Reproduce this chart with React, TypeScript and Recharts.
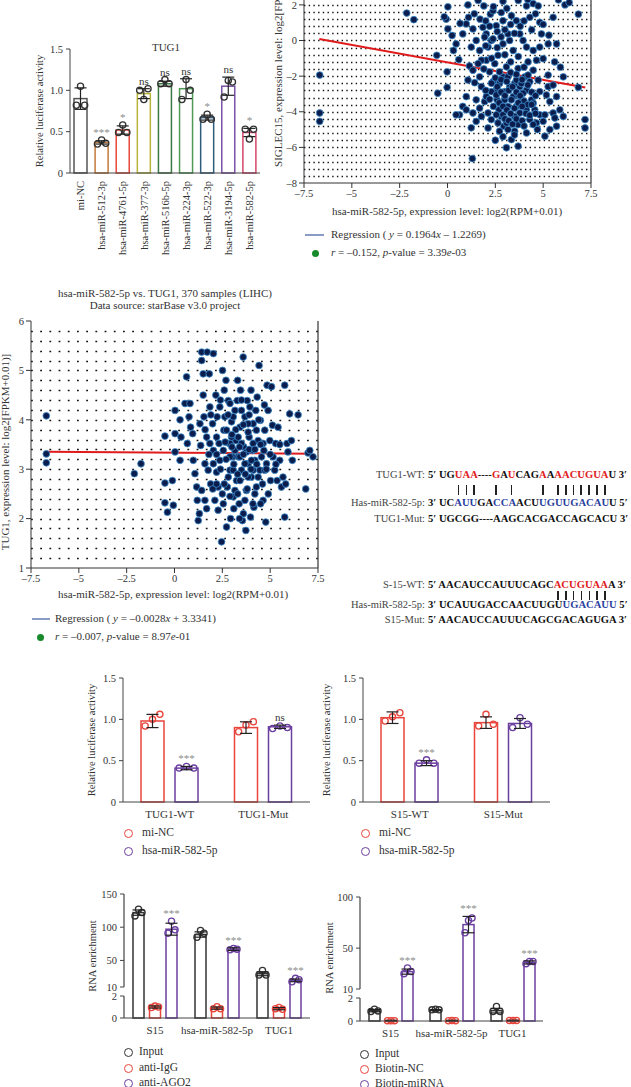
import React from "react";
import {
  BarChart,
  Bar,
  XAxis,
  YAxis,
  ErrorBar,
  ScatterChart,
  Scatter,
  CartesianGrid,
  ReferenceLine,
} from "recharts";

const SERIF = '"Liberation Serif", "DejaVu Serif", "Times New Roman", serif';
const INK = "#333";
const STAR = "#8c8c8c";
const RED = "#e8453c";
const PURPLE = "#6b3fa0";
const DARK = "#333";

// ---------- A: luciferase screen of candidate miRNAs on TUG1
const screenMirs = [
  "mi-NC",
  "hsa-miR-512-3p",
  "hsa-miR-4761-5p",
  "hsa-miR-377-3p",
  "hsa-miR-516b-5p",
  "hsa-miR-224-3p",
  "hsa-miR-522-3p",
  "hsa-miR-3194-5p",
  "hsa-miR-582-5p",
];
const screenMean = [0.9, 0.37, 0.52, 0.96, 1.08, 1.02, 0.67, 1.05, 0.49];
const screenSd = [0.13, 0.02, 0.05, 0.06, 0.03, 0.12, 0.03, 0.11, 0.05];
const screenReps = [
  [0.82, 1.05, 0.82],
  [0.35, 0.4, 0.36],
  [0.49, 0.58, 0.49],
  [1.0, 0.89, 1.02],
  [1.08, 1.13, 1.08],
  [0.89, 1.13, 1.0],
  [0.65, 0.71, 0.65],
  [0.92, 1.12, 1.1],
  [0.53, 0.41, 0.53],
];
const screenSig = ["", "***", "*", "ns", "ns", "ns", "*", "ns", "*"];
const screenColors = ["#555", "#c47a3a", "#e8473c", "#b8b43a", "#3c7a45", "#4f9a55", "#2f5d7c", "#7b51a8", "#d4476a"];

// ---------- B: SIGLEC15 vs hsa-miR-582-5p (starBase)
const siglecPoints: [number, number][] = [
  [-6.68, -1.94], [-6.68, -4.07], [-6.68, -4.54], [-2.13, 1.54], [-1.76, 1.17], [-0.51, -2.96], [-0.56, -0.83],
  [-0.02, -1.76], [-0.02, -2.63], [-0.07, 1.2], [-0.17, 1.33], [0.02, 1.89], [0.02, 0.65], [0.24, 0.28],
  [0.31, -0.56], [0.45, -0.19], [0.59, -1.07], [0.8, 0.37], [1.07, 2.0], [0.98, 0.93], [0.66, 0.96],
  [1.33, 0.65], [1.15, -1.43], [0.98, -3.15], [0.63, -4.17], [0.8, -3.7], [1.3, -6.63], [1.24, -4.9],
  [1.5, -4.54], [1.42, -2.37], [1.68, -2.04], [1.77, -2.59], [1.85, 0.74], [1.9, 1.94], [2.03, 0.37],
  [2.12, -0.37], [2.24, 1.48], [2.29, 0], [2.38, 1.67], [2.47, -1.3], [2.55, -2.78], [2.59, -3.33],
  [2.69, -3.89], [2.81, -4.26], [2.94, -4.81], [3.08, -6.02], [3.34, -5.56], [3.51, -5.09], [3.69, -4.72],
  [3.78, 0.37], [3.95, 0], [4.13, 1.94], [4.3, 1.3], [4.48, 2.07], [4.74, 1.94], [4.82, 1.02], [4.91, 0.37],
  [5.0, -1.02], [5.26, -0.19], [5.52, 1.3], [5.7, -0.19], [6.05, -2.04], [6.14, 2.0], [6.36, 2.13],
  [6.84, 1.48], [7.19, -4.44], [7.19, -4.91], [6.84, -2.63], [5.87, -3.89], [6.05, -4.26], [5.7, -4.81],
  [5.35, -5.0], [5.09, -5.37], [5.26, -2.59], [5.17, -3.06], [4.82, -4.17], [4.56, -3.89], [4.65, -4.63],
  [4.39, -3.33], [4.3, -2.31], [4.13, -2.78], [4.04, -2.04], [3.86, -3.33], [3.78, -2.59], [3.6, -3.7],
  [3.43, -3.15], [3.25, -2.59], [3.16, -3.7], [2.99, -3.33], [2.9, -2.04], [2.72, -2.41], [3.08, -1.48],
  [3.43, -0.56], [3.25, 0], [3.6, 1.11], [3.34, 1.39], [2.9, 1.11], [2.81, 1.57], [2.55, 0.83], [1.94, 0.19],
  [1.68, -0.56], [1.5, 0], [1.24, -0.37], [2.03, -1.11], [2.2, -1.76], [2.38, -2.31], [1.94, -3.43],
  [1.68, -3.8], [1.5, -3.33], [2.12, -4.07], [2.29, -4.44], [2.64, -4.63], [2.72, -5.09], [4.3, -4.44],
  [4.48, -3.52], [4.13, -3.89], [3.78, -4.07], [3.51, -4.26], [3.95, -2.96], [3.69, -3.06], [4.82, -2.87],
  [4.74, -2.22], [4.48, -1.67], [4.21, -1.2], [4.65, -1.11], [4.82, -0.37], [4.48, -0.56], [4.13, -0.37],
  [3.69, -1.57], [3.51, -2.41], [3.16, -2.04], [2.72, -1.76], [2.64, -0.83], [2.9, -0.19], [3.16, 0.37],
  [2.38, 0.09], [1.77, -1.11], [1.33, -1.67], [1.07, -2.22], [0.45, -4.17], [0.98, -3.89], [1.33, -4.07],
  [2.03, -3.15], [2.29, -2.87], [2.55, -3.06], [2.99, -2.87], [3.34, -3.33], [3.6, -2.22], [3.86, -2.41],
  [4.21, -1.94], [5.26, -1.94], [5.52, -2.5], [5.7, -3.15], [5.35, -3.43], [5.09, -4.17], [5.52, -4.07],
  [3.69, -5.93], [4.13, -5.19], [3.16, -5.0], [2.12, -4.91], [1.77, -4.26], [2.55, -4.17], [2.9, -4.17],
  [4.48, -4.72], [5.0, -4.54], [5.61, -4.35], [3.08, -4.63], [1.6, 2.25], [2.9, 2.2], [3.7, 2.25],
  [5.8, 2.28], [4.2, 2.3],
  [2.6, -2.6], [2.8, -2.9], [3.0, -3.1], [3.2, -2.8], [3.4, -2.6], [3.6, -2.9], [3.8, -3.1], [4.0, -3.4],
  [4.2, -3.6], [2.7, -3.5], [2.9, -3.7], [3.1, -3.9], [3.3, -4.1], [3.5, -3.8], [3.7, -3.5], [3.9, -3.7],
  [4.1, -4.1], [4.3, -4.2], [3.0, -4.4], [3.2, -4.5], [3.4, -4.7], [3.6, -4.4], [3.9, -4.5], [2.4, -3.7],
  [2.2, -3.3], [2.0, -2.8], [2.3, -2.4], [2.5, -2.1], [2.8, -2.2], [3.1, -2.3], [3.3, -1.8], [3.6, -1.9],
  [3.9, -2.2], [4.2, -2.5], [4.4, -2.9], [4.6, -3.1], [4.4, -3.6], [4.6, -4.1], [4.0, -4.8], [3.5, -5.3],
  [2.9, -5.4], [2.5, -5.6], [4.7, -5.0], [1.7, 1.2], [2.0, 1.1], [2.2, 0.8], [2.6, 0.5], [2.8, 0.2],
  [3.0, 0.6], [3.3, 0.9], [3.5, 0.4], [3.8, 0.8], [4.0, 1.1], [3.1, 1.8], [2.4, 1.9], [1.4, 1.5], [1.1, 1.3],
  [2.0, -0.3], [2.6, -0.4], [3.0, -0.8], [3.3, -1.2], [3.7, -0.9], [4.0, -1.5], [2.3, -1.0], [1.9, -1.6],
  [1.6, -1.3], [4.4, 0.6], [4.6, 1.5], [5.0, 0.9], [5.3, 0.3], [5.6, -1.2], [5.9, -1.5],
];
const siglecFit = [
  { x: -6.7, y: 0.09 },
  { x: 7.2, y: -2.64 },
];

// ---------- C: TUG1 vs hsa-miR-582-5p (starBase)
const tugPoints: [number, number][] = [
  [-6.7, 4.08], [-6.7, 3.31], [-6.7, 3.13], [-2.1, 2.91], [-1.75, 3.11], [-0.5, 2.32], [-0.5, 2.72],
  [-0.5, 3.67], [-0.37, 2.13], [-0.11, 2.77], [-0.06, 2.27], [0.03, 4.19], [0.03, 3.72], [0.03, 3.35],
  [0.29, 4.0], [0.29, 3.18], [0.34, 3.65], [0.55, 4.33], [0.63, 4.87], [0.67, 3.52], [0.76, 4.06],
  [0.81, 4.33], [0.84, 3.85], [0.95, 3.72], [0.98, 3.18], [1.07, 2.91], [1.16, 2.64], [1.19, 2.37],
  [1.24, 1.96], [1.3, 2.1], [1.33, 3.92], [1.37, 3.48], [1.42, 5.37], [1.42, 5.2], [1.5, 4.93], [1.5, 4.5],
  [1.54, 4.06], [1.59, 3.11], [1.68, 2.2], [1.71, 5.37], [1.68, 3.65], [1.76, 2.98], [1.82, 4.93],
  [1.85, 4.26], [1.89, 2.7], [1.99, 3.92], [2.03, 5.34], [2.03, 3.38], [2.11, 2.37], [2.16, 4.5], [2.2, 2.94],
  [2.23, 4.06], [2.28, 2.64], [2.33, 3.52], [2.37, 3.18], [2.46, 1.53], [2.51, 5.0], [2.55, 2.3], [2.58, 3.79],
  [2.63, 4.06], [2.69, 4.8], [2.72, 1.83], [2.76, 2.64], [2.81, 4.39], [2.86, 3.52], [2.9, 2.98], [2.93, 2.0],
  [2.98, 3.96], [3.03, 3.25], [3.07, 2.44], [3.16, 4.19], [3.21, 3.58], [3.24, 2.77], [3.33, 3.25],
  [3.38, 2.3], [3.42, 3.85], [3.45, 4.6], [3.5, 2.98], [3.55, 1.96], [3.59, 5.27], [3.62, 3.45], [3.68, 4.06],
  [3.73, 1.76], [3.76, 2.57], [3.8, 4.39], [3.85, 3.11], [3.9, 3.65], [3.94, 4.26], [3.97, 2.03], [4.02, 2.84],
  [4.08, 3.38], [4.11, 3.92], [4.15, 2.23], [4.2, 3.18], [4.25, 4.19], [4.28, 2.64], [4.32, 4.46], [4.37, 3.58],
  [4.42, 5.1], [4.46, 2.98], [4.49, 3.99], [4.55, 3.25], [4.63, 2.37], [4.67, 3.38], [4.72, 3.79], [4.77, 1.93],
  [4.81, 3.11], [4.84, 4.7], [4.89, 4.19], [4.98, 3.58], [5.02, 2.77], [5.07, 4.67], [5.12, 3.89], [5.15, 3.25],
  [5.24, 2.98], [5.29, 3.52], [5.36, 2.77], [5.41, 3.85], [5.5, 3.18], [5.59, 2.64], [5.67, 2.84], [5.76, 4.7],
  [5.76, 2.03], [5.81, 2.7], [5.88, 3.52], [5.93, 3.35], [6.02, 4.12], [6.11, 3.58], [6.16, 3.18], [6.46, 4.1],
  [6.86, 2.6], [6.98, 3.33], [7.24, 3.25], [7.07, 3.38], [2.9, 3.25], [3.16, 3.38], [3.33, 3.65], [3.5, 3.52],
  [3.76, 3.35], [4.11, 2.98], [3.07, 2.98], [3.42, 2.77], [3.85, 2.84], [2.81, 2.84], [2.55, 3.38], [2.72, 3.79],
  [3.07, 4.06], [3.5, 4.19], [3.85, 3.92], [4.28, 3.79], [4.11, 3.52], [4.63, 3.52], [3.16, 2.57], [3.68, 2.37],
  [2.28, 2.17], [2.03, 3.11], [2.37, 4.26], [2.9, 4.33], [3.28, 4.39], [2.2, 3.65], [1.85, 3.52], [1.42, 2.57],
  [1.59, 2.37], [2.98, 3.65], [3.68, 3.11], [4.02, 3.18], [4.37, 2.84], [4.72, 2.98], [3.42, 3.25], [2.9, 3.52],
  [2.4, 3.0], [2.6, 2.7], [2.7, 3.2], [3.0, 3.45], [3.1, 3.1], [3.3, 2.9], [3.4, 3.45], [3.6, 3.3], [3.7, 2.9],
  [3.9, 3.4], [4.0, 3.0], [4.2, 3.4], [4.3, 3.1], [4.5, 3.5], [4.6, 2.7], [3.2, 3.8], [3.6, 3.9], [3.0, 3.7],
  [2.8, 4.1], [3.5, 4.4], [3.9, 4.1], [4.4, 4.0], [2.5, 2.5], [2.9, 2.45], [3.3, 2.5], [3.8, 2.6], [4.2, 2.5],
  [4.5, 2.3], [3.1, 2.2], [3.6, 2.1], [2.2, 3.3], [2.0, 2.6], [1.8, 3.3], [1.6, 3.8], [1.9, 4.1], [2.4, 4.4],
  [2.6, 4.6], [3.3, 4.8], [4.0, 4.6], [4.7, 4.3], [5.0, 3.3], [5.3, 3.1], [4.9, 2.5], [5.5, 3.5], [3.4, 2.0],
  [2.2, 2.7], [4.1, 2.3], [4.8, 3.0], [2.65, 3.55], [3.85, 3.75],
];
const tugFit = [
  { x: -6.7, y: 3.353 },
  { x: 7.2, y: 3.314 },
];

const scatterXTicks = [-7.5, -5, -2.5, 0, 2.5, 5, 7.5];
const siglecYTicks = [-8, -6, -4, -2, 0, 2, 4, 6, 8];
const tugYTicks = [1, 2, 3, 4, 5, 6];

// ---------- E / F: dual luciferase, WT vs Mut
const tugLucGroups = ["TUG1-WT", "TUG1-Mut"];
const tugLucNC = [0.98, 0.9];
const tugLucNCSd = [0.08, 0.07];
const tugLucNCReps = [[0.92, 1.0, 1.06], [0.85, 0.93, 0.97]];
const tugLucMir = [0.41, 0.91];
const tugLucMirSd = [0.02, 0.02];
const tugLucMirReps = [[0.41, 0.43, 0.41], [0.89, 0.92, 0.9]];
const tugLucSig = ["***", "ns"];

const s15LucGroups = ["S15-WT", "S15-Mut"];
const s15LucNC = [1.02, 0.96];
const s15LucNCSd = [0.07, 0.07];
const s15LucNCReps = [[0.98, 1.03, 1.08], [0.92, 1.06, 0.94]];
const s15LucMir = [0.47, 0.95];
const s15LucMirSd = [0.03, 0.06];
const s15LucMirReps = [[0.47, 0.51, 0.47], [0.9, 1.02, 0.94]];
const s15LucSig = ["***", ""];

const lucTicks = [0, 0.5, 1, 1.5];

// ---------- G: RIP (anti-AGO2)
const ripGroups = ["S15", "hsa-miR-582-5p", "TUG1"];
const ripInput = [122, 89, 30];
const ripInputSd = [4, 4, 3];
const ripInputReps = [[117, 127, 122], [85, 95, 91], [28, 35, 28]];
const ripIgg = [1.0, 0.9, 0.85];
const ripIggSd = [0.1, 0.1, 0.1];
const ripIggReps = [[0.95, 1.08, 1.0], [0.85, 1.02, 0.85], [0.85, 0.95, 0.8]];
const ripAgo = [97, 67, 20];
const ripAgoSd = [9, 2, 2];
const ripAgoReps = [[91, 109, 96], [66, 68, 67], [18, 23, 21]];
const ripSig = ["***", "***", "***"];
const ripTicks = [0, 2, 10, 50, 100, 150];

// ---------- H: biotin pull-down
const pullGroups = ["S15", "hsa-miR-582-5p", "TUG1"];
const pullInput = [0.9, 0.95, 0.9];
const pullInputSd = [0.1, 0.05, 0.2];
const pullInputReps = [[0.82, 1.03, 0.88], [0.97, 1.03, 0.97], [0.82, 1.26, 0.82]];
const pullNC = [0.03, 0.03, 0.04];
const pullNCSd = [0.03, 0.03, 0.03];
const pullNCReps = [[0.03, 0.03, 0.03], [0.02, 0.04, 0.03], [0.04, 0.05, 0.04]];
const pullMir = [27, 73, 36];
const pullMirSd = [2.5, 8, 1.5];
const pullMirReps = [[25, 30.5, 27], [65, 77, 79.4], [34.8, 37, 37]];
const pullSig = ["***", "***", "***"];
const pullTicks = [0, 2, 10, 50, 100];

// broken y axis: lower part 0-2, gap, upper part 10-top, all in pixel-like units
function brokenScale(lowPx: number, gapPx: number, upPx: number, top: number) {
  return (v: number) =>
    v <= 2 ? (v / 2) * lowPx : v < 10 ? lowPx + ((v - 2) / 8) * gapPx : lowPx + gapPx + ((v - 10) / (top - 10)) * upPx;
}
const ripToM = brokenScale(22, 9, 93, 150);
const pullToM = brokenScale(23, 9, 92, 100);
const BROKEN_MAX = 124;

type Series = { key: string; mean: number[]; sd: number[]; reps: number[][]; sig?: string[] };

function buildRows(groups: string[], series: Series[], toM = (v: number) => v) {
  return groups.map((g, i) => {
    const row: any = { group: g };
    series.forEach((s) => {
      const m = toM(s.mean[i]);
      row[s.key] = m;
      row[s.key + "Mean"] = s.mean[i];
      row[s.key + "Sd"] = s.sd[i];
      row[s.key + "Reps"] = s.reps[i];
      row[s.key + "Sig"] = s.sig ? s.sig[i] : "";
      row[s.key + "Err"] = [m - toM(Math.max(0, s.mean[i] - s.sd[i])), toM(s.mean[i] + s.sd[i]) - m];
    });
    return row;
  });
}

// open bar with the replicate circles and significance mark
function openBar(key: string, k: number, strokeOf: (i: number) => string, dotOf: (i: number) => string, toM = (v: number) => v) {
  return (p: any) => {
    const { x, y, width, height, payload, index } = p;
    const base = y + height;
    const reps: number[] = payload[key + "Reps"];
    const top = Math.max(...reps, payload[key + "Mean"] + payload[key + "Sd"]);
    const cx = x + width / 2;
    const sig = payload[key + "Sig"];
    return (
      <g>
        <rect x={x} y={y} width={width} height={Math.max(height, 0)} fill="#fff" stroke={strokeOf(index)} strokeWidth={1.5} />
        {reps.map((r, j) => (
          <circle key={j} cx={cx + (j - 1) * width * 0.32} cy={base - toM(r) * k} r={3.1} fill="none" stroke={dotOf(index)} strokeWidth={1.3} />
        ))}
        {sig ? (
          <text x={cx} y={base - toM(top) * k - 4} textAnchor="middle" fontSize={11} fill={sig === "ns" ? INK : STAR}>
            {sig}
          </text>
        ) : null}
      </g>
    );
  };
}

function brokenTick(ticks: number[], toM: (v: number) => number, segments: [number, number][]) {
  return (p: any) => {
    const { x, y, payload } = p;
    const raw = ticks.find((t) => Math.abs(toM(t) - payload.value) < 1e-6);
    const seg = segments.find((s) => s[0] === raw);
    const ax = x + 7;
    return (
      <g>
        <text x={x} y={y} dy="0.35em" textAnchor="end" fontSize={10.5} fill={INK}>
          {raw}
        </text>
        {seg ? <line x1={ax} x2={ax} y1={y} y2={y - (toM(seg[1]) - toM(seg[0]))} stroke="#444" strokeWidth={1.2} /> : null}
      </g>
    );
  };
}

// dotted background rows, snapped to whole pixels so every row stays crisp
function rowGenerator(values: number[], min: number, max: number) {
  return ({ offset }: any) =>
    offset ? values.map((v) => Math.round(offset.top + ((max - v) / (max - min)) * offset.height) + 0.5) : [];
}

const fmtLuc = (v: number) => (v === 0 ? "0" : v.toFixed(1));
const fmtSigned = (v: number) => (v < 0 ? "\u2013" + Math.abs(v) : String(v));

const RotTick = (p: any) => (
  <g transform={`translate(${p.x},${p.y})`}>
    <text transform="rotate(-90)" textAnchor="end" dy="0.35em" fontSize={10.5} fill={INK}>
      {p.payload.value}
    </text>
  </g>
);

const navyDot = (p: any) => <circle cx={p.cx} cy={p.cy} r={3.4} fill="#0b1d4d" stroke="#3d8fd1" strokeWidth={0.8} />;

function Label({ x, y, children, size = 10.5, align = "start", rotate = false, color = INK }: any) {
  const tx = align === "middle" ? "-50%" : align === "end" ? "-100%" : "0";
  return (
    <div
      style={{
        position: "absolute",
        left: x,
        top: y,
        transform: rotate ? "translate(-50%, -50%) rotate(-90deg)" : `translate(${tx}, -50%)`,
        fontSize: size,
        color,
        whiteSpace: "nowrap",
        lineHeight: 1.2,
      }}
    >
      {children}
    </div>
  );
}

function LegendCircle({ x, y, color }: any) {
  return (
    <div
      style={{
        position: "absolute",
        left: x - 4.5,
        top: y - 4.5,
        width: 9,
        height: 9,
        borderRadius: "50%",
        border: `1.3px solid ${color}`,
        boxSizing: "border-box",
      }}
    />
  );
}

function Box({ left, top, children }: any) {
  return <div style={{ position: "absolute", left, top }}>{children}</div>;
}

// ---------- sequences
const SEQ_LABEL_RIGHT = 425;
const SEQ_X = 428;
const SEQ_SIZE = 10.6;
type Seg = [string, string?];
const SEQ_RED = "#e0201c";
const SEQ_BLUE = "#2b3f9e";

const tugWt: Seg[] = [["UG"], ["UAA", SEQ_RED], ["----"], ["G", SEQ_RED], ["A"], ["U", SEQ_RED], ["CAG"], ["A", SEQ_RED], ["A"], ["AACUGUA", SEQ_RED], ["U"]];
const tugPairs = [2, 3, 4, 9, 11, 15, 17, 18, 19, 20, 21, 22, 23];
const mirTug: Seg[] = [["UC"], ["AUU", SEQ_BLUE], ["GA"], ["CCA", SEQ_BLUE], ["ACU"], ["UGUUGACAU", SEQ_BLUE], ["U"]];
const tugMut: Seg[] = [["UGCGG----AAGCACGACCAGCACU"]];
const s15Wt: Seg[] = [["AACAUCCAUUUCAGC"], ["ACUGUAA", SEQ_RED], ["A"]];
const s15Pairs = [15, 16, 17, 18, 19, 20, 21];
const mirS15: Seg[] = [["UCAUUGACCAACUUGU"], ["UGACAUU", SEQ_BLUE]];
const s15Mut: Seg[] = [["AACAUCCAUUUCAGCGACAGUGA"]];

function SeqRow({ y, label, p5, segs, p3 }: any) {
  return (
    <>
      <div style={{ position: "absolute", right: 631 - SEQ_LABEL_RIGHT, top: y, transform: "translateY(-50%)", fontSize: 10.5, color: "#444", whiteSpace: "nowrap", lineHeight: 1.2 }}>
        {label}
      </div>
      <div style={{ position: "absolute", left: SEQ_X, top: y, transform: "translateY(-50%)", fontSize: SEQ_SIZE, fontWeight: 700, color: "#111", whiteSpace: "nowrap", lineHeight: 1.2 }}>
        {p5}{" "}
        {segs.map((s: Seg, i: number) => (
          <span key={i} style={{ color: s[1] || "#111" }}>
            {s[0]}
          </span>
        ))}{" "}
        {p3}
      </div>
    </>
  );
}

// a copy of the upper strand in invisible ink, with a stroke under every paired base
function PairRow({ y, h, p5, segs, pairs }: any) {
  const chars = segs.map((s: Seg) => s[0]).join("").split("");
  return (
    <div style={{ position: "absolute", left: SEQ_X, top: y - 20, height: 40, whiteSpace: "nowrap", fontSize: SEQ_SIZE, fontWeight: 700, color: "transparent", lineHeight: "40px" }}>
      {p5}{" "}
      {chars.map((ch: string, i: number) => (
        <span key={i} style={{ position: "relative", display: "inline-block", height: 40, verticalAlign: "top" }}>
          {ch}
          {pairs.includes(i) ? (
            <span style={{ position: "absolute", left: "50%", top: 20 - h / 2, height: h, width: 1.6, marginLeft: -0.8, background: "#222" }} />
          ) : null}
        </span>
      ))}
    </div>
  );
}

const screenRows = buildRows(screenMirs, [{ key: "v", mean: screenMean, sd: screenSd, reps: screenReps, sig: screenSig }]);
const tugLucRows = buildRows(tugLucGroups, [
  { key: "nc", mean: tugLucNC, sd: tugLucNCSd, reps: tugLucNCReps },
  { key: "mir", mean: tugLucMir, sd: tugLucMirSd, reps: tugLucMirReps, sig: tugLucSig },
]);
const s15LucRows = buildRows(s15LucGroups, [
  { key: "nc", mean: s15LucNC, sd: s15LucNCSd, reps: s15LucNCReps },
  { key: "mir", mean: s15LucMir, sd: s15LucMirSd, reps: s15LucMirReps, sig: s15LucSig },
]);
const ripRows = buildRows(
  ripGroups,
  [
    { key: "input", mean: ripInput, sd: ripInputSd, reps: ripInputReps },
    { key: "igg", mean: ripIgg, sd: ripIggSd, reps: ripIggReps },
    { key: "ago", mean: ripAgo, sd: ripAgoSd, reps: ripAgoReps, sig: ripSig },
  ],
  ripToM
);
const pullRows = buildRows(
  pullGroups,
  [
    { key: "input", mean: pullInput, sd: pullInputSd, reps: pullInputReps },
    { key: "nc", mean: pullNC, sd: pullNCSd, reps: pullNCReps },
    { key: "mir", mean: pullMir, sd: pullMirSd, reps: pullMirReps, sig: pullSig },
  ],
  pullToM
);
const siglecData = siglecPoints.map(([x, y]) => ({ x, y }));
const tugData = tugPoints.map(([x, y]) => ({ x, y }));
const siglecRowsGrid = Array.from({ length: 40 }, (_, i) => -7.6 + i * 0.4);
const tugRowsGrid = Array.from({ length: 24 }, (_, i) => 1.2 + i * 0.2);

const axisTick = { fontSize: 10.5, fill: INK };
const errProps = { width: 6, stroke: "#222", strokeWidth: 1.2 };

function LucChart({ rows }: any) {
  const k = 124 / 1.5;
  return (
    <BarChart width={235} height={154} data={rows} margin={{ top: 10, right: 5, left: 13, bottom: 0 }} barSize={23} barGap={11}>
      <XAxis dataKey="group" tickLine={false} height={20} interval={0} stroke="#444" tick={{ fontSize: 11, fill: INK }} />
      <YAxis domain={[0, 1.5]} ticks={lucTicks} tickFormatter={fmtLuc} width={30} tickSize={4} tickMargin={3} stroke="#444" tick={axisTick} />
      <Bar dataKey="nc" isAnimationActive={false} shape={openBar("nc", k, () => RED, () => RED)}>
        <ErrorBar dataKey="ncSd" {...errProps} />
      </Bar>
      <Bar dataKey="mir" isAnimationActive={false} shape={openBar("mir", k, () => PURPLE, () => PURPLE)}>
        <ErrorBar dataKey="mirSd" {...errProps} />
      </Bar>
    </BarChart>
  );
}

function BrokenChart({ rows, keys, colors, toM, ticks, segments, width, left, yWidth }: any) {
  return (
    <BarChart width={width} height={154} data={rows} margin={{ top: 10, right: 5, left, bottom: 0 }} barSize={11} barGap={5.5}>
      <XAxis dataKey="group" tickLine={false} height={20} interval={0} stroke="#444" tick={{ fontSize: 11, fill: INK }} />
      <YAxis
        type="number"
        domain={[0, BROKEN_MAX]}
        ticks={ticks.map(toM)}
        interval={0}
        width={yWidth}
        tickSize={4}
        tickMargin={3}
        axisLine={false}
        stroke="#444"
        tick={brokenTick(ticks, toM, segments)}
      />
      {keys.map((key: string, i: number) => (
        <Bar key={key} dataKey={key} isAnimationActive={false} shape={openBar(key, 1, () => colors[i], () => colors[i], toM)}>
          <ErrorBar dataKey={key + "Err"} {...errProps} />
        </Bar>
      ))}
    </BarChart>
  );
}

export default function App() {
  return (
    <div
      style={{
        position: "absolute",
        left: 0,
        top: 0,
        width: 631,
        height: 1087,
        overflow: "hidden",
        background: "#fff",
        fontFamily: SERIF,
        color: INK,
      }}
    >
      {/* A */}
      <Box left={0} top={0}>
        <BarChart width={270} height={265} data={screenRows} margin={{ top: 49, right: 10, left: 30, bottom: 0 }} barSize={13}>
          <XAxis dataKey="group" interval={0} tickLine={false} height={92} tick={RotTick} stroke="#444" />
          <YAxis domain={[0, 1.5]} ticks={lucTicks} tickFormatter={fmtLuc} width={40} tickSize={4} tickMargin={3} stroke="#444" tick={axisTick} />
          <Bar dataKey="v" isAnimationActive={false} shape={openBar("v", 124 / 1.5, (i) => screenColors[i], () => "#333")}>
            <ErrorBar dataKey="vSd" {...errProps} />
          </Bar>
        </BarChart>
      </Box>
      <Label x={166} y={48} align="middle" size={11}>TUG1</Label>
      <Label x={40} y={111} rotate>Relative luciferase activity</Label>

      {/* B */}
      <Box left={270} top={-110}>
        <ScatterChart width={329} height={323} margin={{ top: 8, right: 8, left: 4, bottom: 0 }}>
          <CartesianGrid
            vertical={false}
            horizontalValues={siglecRowsGrid}
            horizontalCoordinatesGenerator={rowGenerator(siglecRowsGrid, -8, 8)}
            stroke="#111"
            strokeWidth={1.3}
            strokeDasharray="1.4 3.3"
          />
          <XAxis type="number" dataKey="x" domain={[-7.5, 7.5]} ticks={scatterXTicks} tickFormatter={fmtSigned} height={30} tickSize={5} stroke="#333" tick={axisTick} />
          <YAxis type="number" dataKey="y" domain={[-8, 8]} ticks={siglecYTicks} tickFormatter={fmtSigned} width={30} tickSize={5} stroke="#333" tick={axisTick} />
          <ReferenceLine x={7.5} stroke="#333" strokeWidth={1.2} />
          <Scatter data={siglecData} shape={navyDot} isAnimationActive={false} />
          <ReferenceLine segment={siglecFit} stroke="#e01b1b" strokeWidth={2} />
        </ScatterChart>
      </Box>
      <Label x={279} y={58} rotate size={11}>SIGLEC15, expression level: log2[FPKM+0.01)]</Label>
      <Label x={447} y={212} align="middle" size={11}>hsa-miR-582-5p, expression level: log2(RPM+0.01)</Label>
      <div style={{ position: "absolute", left: 305, top: 234, width: 19, height: 1.5, background: "#8a9cc6" }} />
      <Label x={331} y={235} size={11}>
        Regression ( <i>y</i> = 0.1964<i>x</i> – 1.2269)
      </Label>
      <div style={{ position: "absolute", left: 311.5, top: 249.5, width: 7, height: 7, borderRadius: "50%", background: "#178a2c" }} />
      <Label x={331} y={253} size={11}>
        <i>r</i> = –0.152, <i>p</i>-value = 3.39<i>e</i>-03
      </Label>

      {/* C */}
      <Label x={165} y={294} align="middle" size={11}>hsa-miR-582-5p vs. TUG1, 370 samples (LIHC)</Label>
      <Label x={165} y={306} align="middle" size={11}>Data source: starBase v3.0 project</Label>
      <Box left={0} top={310}>
        <ScatterChart width={326} height={288} margin={{ top: 11, right: 8, left: 6, bottom: 0 }}>
          <CartesianGrid
            vertical={false}
            horizontalValues={tugRowsGrid}
            horizontalCoordinatesGenerator={rowGenerator(tugRowsGrid, 1, 6)}
            stroke="#111"
            strokeWidth={1.4}
            strokeDasharray="1.8 7.4"
          />
          <XAxis type="number" dataKey="x" domain={[-7.5, 7.5]} ticks={scatterXTicks} tickFormatter={fmtSigned} height={30} tickSize={5} stroke="#333" tick={axisTick} />
          <YAxis type="number" dataKey="y" domain={[1, 6]} ticks={tugYTicks} width={25} tickSize={5} stroke="#333" tick={axisTick} />
          <ReferenceLine x={7.5} stroke="#333" strokeWidth={1.2} />
          <Scatter data={tugData} shape={navyDot} isAnimationActive={false} />
          <ReferenceLine segment={tugFit} stroke="#e01b1b" strokeWidth={2} />
        </ScatterChart>
      </Box>
      <Label x={6} y={452} rotate size={11}>TUG1, expression level: log2[FPKM+0.01)]</Label>
      <Label x={173} y={595} align="middle" size={11}>hsa-miR-582-5p, expression level: log2(RPM+0.01)</Label>
      <div style={{ position: "absolute", left: 32, top: 618, width: 18, height: 1.5, background: "#8a9cc6" }} />
      <Label x={55} y={619} size={11}>
        Regression ( <i>y</i> = –0.0028<i>x</i> + 3.3341)
      </Label>
      <div style={{ position: "absolute", left: 36.5, top: 633.5, width: 7, height: 7, borderRadius: "50%", background: "#178a2c" }} />
      <Label x={55} y={637} size={11}>
        <i>r</i> = –0.007, <i>p</i>-value = 8.97<i>e</i>-01
      </Label>

      {/* D: binding sites */}
      <SeqRow y={475} label="TUG1-WT:" p5={"5\u2032"} segs={tugWt} p3={"3\u2032"} />
      <PairRow y={490} h={10} p5={"5\u2032"} segs={tugWt} pairs={tugPairs} />
      <SeqRow y={503} label="Has-miR-582-5p:" p5={"3\u2032"} segs={mirTug} p3={"5\u2032"} />
      <SeqRow y={519} label="TUG1-Mut:" p5={"5\u2032"} segs={tugMut} p3={"3\u2032"} />
      <SeqRow y={585} label="S-15-WT:" p5={"5\u2032"} segs={s15Wt} p3={"3\u2032"} />
      <PairRow y={595} h={9} p5={"5\u2032"} segs={s15Wt} pairs={s15Pairs} />
      <SeqRow y={605} label="Has-miR-582-5p:" p5={"3\u2032"} segs={mirS15} p3={"5\u2032"} />
      <SeqRow y={620} label="S15-Mut:" p5={"5\u2032"} segs={s15Mut} p3={"3\u2032"} />

      {/* E */}
      <Box left={80} top={668}>
        <LucChart rows={tugLucRows} />
      </Box>
      <Label x={92} y={740} rotate>Relative luciferase activity</Label>
      <LegendCircle x={128} y={833} color={RED} />
      <Label x={142} y={833} size={11.5}>mi-NC</Label>
      <LegendCircle x={128} y={851} color={PURPLE} />
      <Label x={142} y={851} size={11.5}>hsa-miR-582-5p</Label>

      {/* F */}
      <Box left={320} top={668}>
        <LucChart rows={s15LucRows} />
      </Box>
      <Label x={327} y={740} rotate>Relative luciferase activity</Label>
      <LegendCircle x={365} y={833} color={RED} />
      <Label x={379} y={833} size={11.5}>mi-NC</Label>
      <LegendCircle x={365} y={851} color={PURPLE} />
      <Label x={379} y={851} size={11.5}>hsa-miR-582-5p</Label>

      {/* G */}
      <Box left={80} top={884}>
        <BrokenChart
          rows={ripRows}
          keys={["input", "igg", "ago"]}
          colors={[DARK, RED, PURPLE]}
          toM={ripToM}
          ticks={ripTicks}
          segments={[[0, 2], [10, 150]]}
          width={235}
          left={8}
          yWidth={36}
        />
      </Box>
      <Label x={93} y={956} rotate>RNA enrichment</Label>
      <LegendCircle x={128} y={1052} color={DARK} />
      <Label x={139} y={1052} size={11.5}>Input</Label>
      <LegendCircle x={128} y={1068} color={RED} />
      <Label x={139} y={1068} size={11.5}>anti-IgG</Label>
      <LegendCircle x={128} y={1083} color={PURPLE} />
      <Label x={139} y={1083} size={11.5}>anti-AGO2</Label>

      {/* H */}
      <Box left={318} top={887}>
        <BrokenChart
          rows={pullRows}
          keys={["input", "nc", "mir"]}
          colors={[DARK, RED, PURPLE]}
          toM={pullToM}
          ticks={pullTicks}
          segments={[[0, 2], [10, 100]]}
          width={230}
          left={8}
          yWidth={34}
        />
      </Box>
      <Label x={330} y={958} rotate>RNA enrichment</Label>
      <LegendCircle x={364} y={1054} color={DARK} />
      <Label x={375} y={1054} size={11.5}>Input</Label>
      <LegendCircle x={364} y={1069} color={RED} />
      <Label x={375} y={1069} size={11.5}>Biotin-NC</Label>
      <LegendCircle x={364} y={1084} color={PURPLE} />
      <Label x={375} y={1084} size={11.5}>Biotin-miRNA</Label>
    </div>
  );
}
